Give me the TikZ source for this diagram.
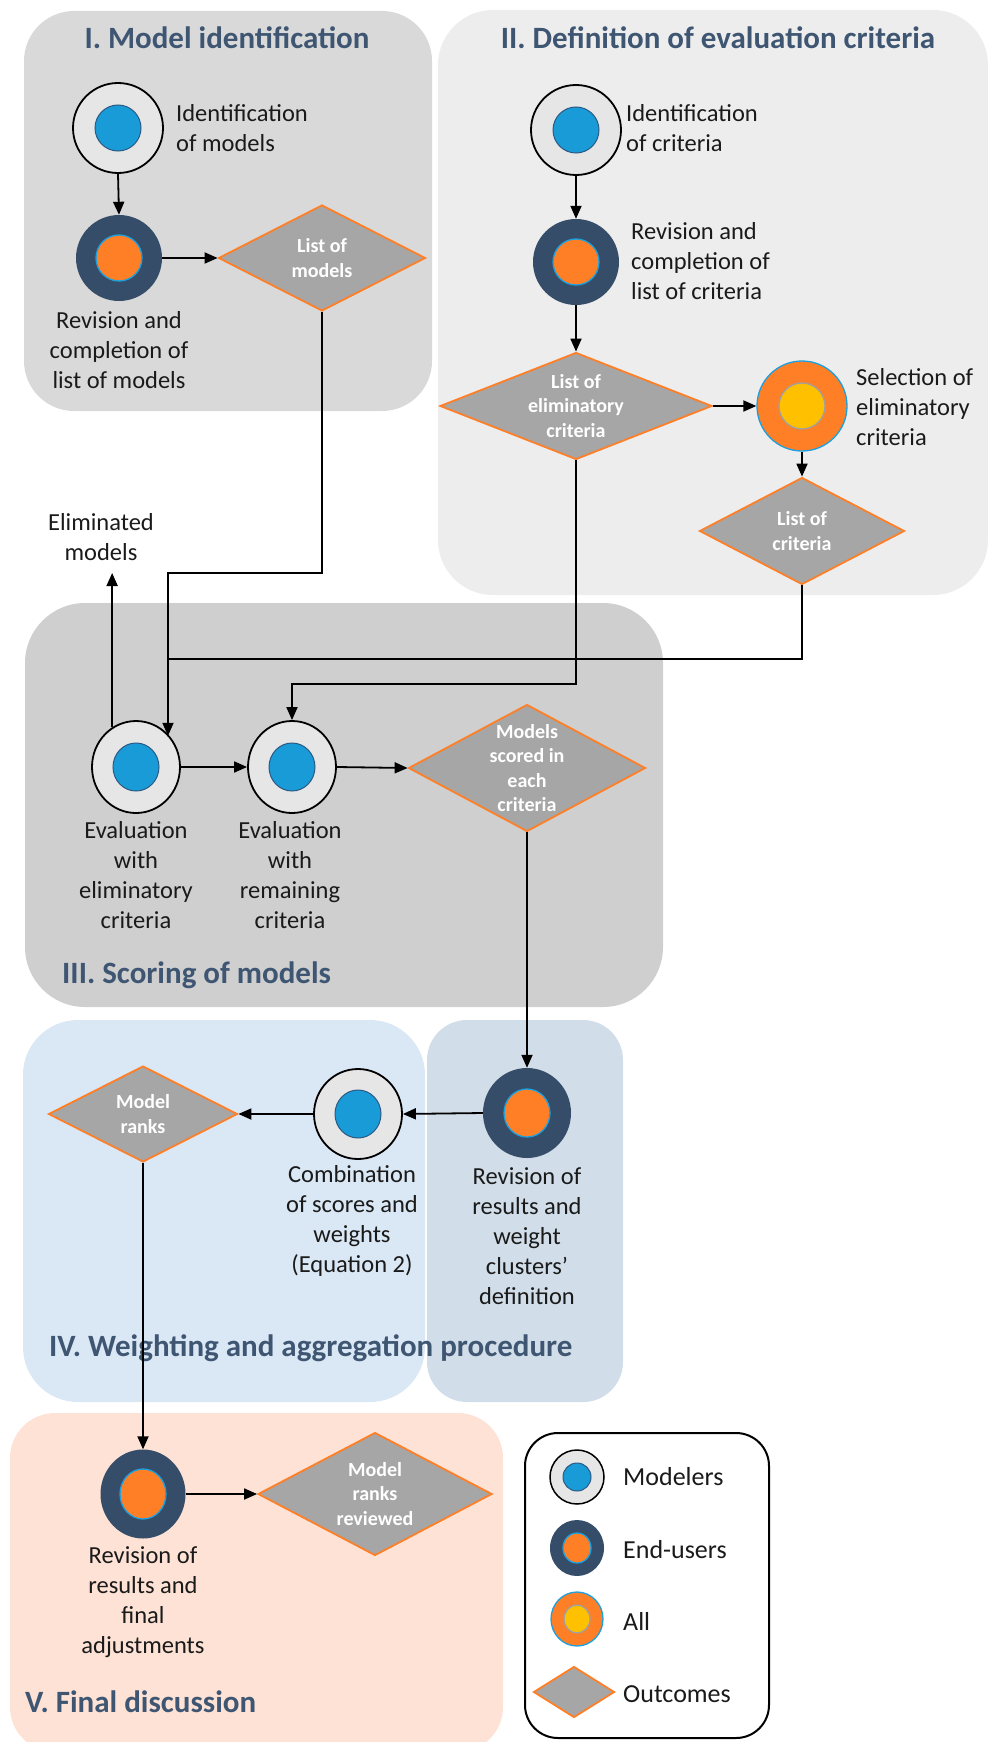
\documentclass[tikz,border=0pt]{standalone}
\usepackage{fontspec}
\setmainfont{Carlito}
\usetikzlibrary{shapes.geometric,arrows.meta}
\definecolor{cboxA}{HTML}{D9D9D9}
\definecolor{cboxB}{HTML}{EDEDED}
\definecolor{cboxC}{HTML}{CFCFCF}
\definecolor{cboxD}{HTML}{DAE7F4}
\definecolor{cboxE}{HTML}{D1DEE9}
\definecolor{cboxF}{HTML}{FDE2D5}
\definecolor{ctitle}{HTML}{3F5673}
\definecolor{cmodbg}{HTML}{E6E6E6}
\definecolor{cblue}{HTML}{189BD7}
\definecolor{cbluedk}{HTML}{2C5A85}
\definecolor{cbluelt}{HTML}{1BA0E0}
\definecolor{cnavy}{HTML}{354D69}
\definecolor{corange}{HTML}{FF7F27}
\definecolor{cyellow}{HTML}{FFC000}
\definecolor{cring}{HTML}{A0A0A0}
\definecolor{cdiag}{HTML}{A6A6A6}
\definecolor{ctext}{HTML}{1A1A1A}
\begin{document}
\begin{tikzpicture}[x=1pt,y=-1pt,
  arr/.style={line width=1.8pt,-{Triangle[length=13pt,width=11pt]}},
  ln/.style={line width=1.8pt},
  modeler/.style n args={4}{ellipse, draw=black, line width=1.8pt, fill=cmodbg,
    minimum width=#1, minimum height=#2, inner sep=0pt,
    path picture={\filldraw[fill=cblue, draw=cbluedk, line width=1pt]
      (path picture bounding box.center) ellipse [x radius=#3, y radius=#4];}},
  enduser/.style n args={4}{ellipse, fill=cnavy, draw=none,
    minimum width=#1, minimum height=#2, inner sep=0pt,
    path picture={\filldraw[fill=corange, draw=cbluelt, line width=1.3pt]
      (path picture bounding box.center) ellipse [x radius=#3, y radius=#4];}},
  allst/.style n args={4}{ellipse, fill=corange, draw=cbluelt, line width=1.3pt,
    minimum width=#1, minimum height=#2, inner sep=0pt,
    path picture={\filldraw[fill=cyellow, draw=cring, line width=1.3pt]
      (path picture bounding box.center) ellipse [x radius=#3, y radius=#4];}},
  outcome/.style n args={2}{diamond, fill=cdiag, draw=corange, line width=1.8pt,
    inner sep=0pt, minimum width=#1, minimum height=#2},
  dtext/.style={text=white, font=\fontsize{20}{24.5}\selectfont\bfseries, align=center, inner sep=0pt},
  btext/.style={text=ctext, font=\fontsize{24.5}{30}\selectfont, align=center, inner sep=0pt},
  ttl/.style={text=ctitle, font=\fontsize{31}{36}\selectfont\bfseries, inner sep=0pt},
  lgtext/.style={text=ctext, font=\fontsize{26}{30}\selectfont, inner sep=0pt, anchor=west}
]
\useasboundingbox (0,0) rectangle (990,1742);
% backgrounds
\fill[cboxA, rounded corners=50pt] (24,11) rectangle (432,411);
\fill[cboxB, rounded corners=55pt] (438,10) rectangle (988,595);
\fill[cboxC, rounded corners=60pt] (25,603) rectangle (663,1007);
\fill[cboxD, rounded corners=55pt] (23,1020) rectangle (425,1402);
\fill[cboxE, rounded corners=40pt] (427,1020) rectangle (623,1402);
\fill[cboxF, rounded corners=45pt] (10,1413) rectangle (503,1752);
\draw[line width=2pt, fill=white, rounded corners=33pt] (525,1433) rectangle (769,1738);

% titles
\node[ttl] (T1) at (227,38) {I. Model identification};
\node[ttl] (T2) at (718,38) {II. Definition of evaluation criteria};
\node[ttl, anchor=west] (T3) at (62,975) {III. Scoring of models};
\node[ttl, anchor=west] (T4) at (49,1348) {IV. Weighting and aggregation procedure};
\node[ttl, anchor=west] (T5) at (25,1702) {V. Final discussion};

% box I
\node[modeler={90pt}{90pt}{23pt}{23pt}] (c1) at (118,128) {};
\node[btext, anchor=west, align=left] (c1t) at (176,128) {Identification\\of models};
\node[enduser={86pt}{86pt}{23pt}{23pt}] (c2) at (119,258) {};
\node[btext] (c2t) at (119,350) {Revision and\\completion of\\list of models};
\node[outcome={207pt}{106pt}] (d1) at (322,258) {};
\node[dtext] (d1t) at (d1) {List of\\models};

% box II
\node[modeler={90pt}{90pt}{23pt}{23pt}] (c3) at (576,130) {};
\node[btext, anchor=west, align=left] (c3t) at (626,128) {Identification\\of criteria};
\node[enduser={86pt}{86pt}{23pt}{23pt}] (c4) at (576,262) {};
\node[btext, anchor=west, align=left] (c4t) at (631,261) {Revision and\\completion of\\list of criteria};
\node[outcome={272pt}{107pt}] (d2) at (576,406) {};
\node[dtext] (d2t) at (d2) {List of\\eliminatory\\criteria};
\node[allst={90pt}{90pt}{23pt}{23pt}] (c5) at (802,406) {};
\node[btext, anchor=west, align=left] (c5t) at (856,407) {Selection of\\eliminatory\\criteria};
\node[outcome={205pt}{107pt}] (d3) at (802,531) {};
\node[dtext] (d3t) at (d3) {List of\\criteria};

% box III
\node[btext] (elimt) at (101,537) {Eliminated\\models};
\coordinate (elimpt) at (113,573);
\node[modeler={88pt}{92pt}{23pt}{24pt}] (e1) at (136,767) {};
\node[btext] (e1t) at (136,875) {Evaluation\\with\\eliminatory\\criteria};
\node[modeler={88pt}{92pt}{23pt}{24pt}] (e2) at (292,767) {};
\node[btext] (e2t) at (290,875) {Evaluation\\with\\remaining\\criteria};
\node[outcome={237pt}{127pt}] (s1) at (527,768) {};
\node[dtext] (s1t) at (s1) {Models\\scored in\\each\\criteria};

% box IV
\node[enduser={88pt}{90pt}{23pt}{24pt}] (r1) at (527,1113) {};
\node[btext] (r1t) at (527,1236) {Revision of\\results and\\weight\\clusters’\\definition};
\node[modeler={88pt}{90pt}{23pt}{24pt}] (cb) at (358,1114) {};
\node[btext] (cbt) at (352,1221) {Combination\\of scores and\\weights\\(Equation 2)};
\node[outcome={189pt}{96pt}] (rk) at (143,1114) {};
\node[dtext] (rkt) at (rk) {Model\\ranks};

% box V
\node[enduser={85pt}{89pt}{23pt}{25pt}] (v1) at (143,1494) {};
\node[btext] (v1t) at (143,1602) {Revision of\\results and\\final\\adjustments};
\node[outcome={234pt}{123pt}] (rv) at (375,1494) {};
\node[dtext] (rvt) at (rv) {Model\\ranks\\reviewed};

% legend
\node[modeler={54pt}{54pt}{14pt}{14pt}, line width=1.5pt] (lg1) at (577,1477) {};
\node[lgtext] (lg1t) at (623,1477) {Modelers};
\node[enduser={54pt}{56pt}{14pt}{15pt}] (lg2) at (577,1548) {};
\node[lgtext] (lg2t) at (623,1550) {End-users};
\node[allst={52pt}{54pt}{13pt}{14pt}] (lg3) at (577,1619) {};
\node[lgtext] (lg3t) at (623,1621) {All};
\node[outcome={81pt}{51pt}] (lg4) at (574,1692) {};
\node[lgtext] (lg4t) at (623,1694) {Outcomes};

% connectors
\coordinate (j1) at (168,573);
\coordinate (j2) at (168,659);
\coordinate (j3) at (292,684);
\draw[arr] (c1.south) -- (c2.north);
\draw[arr] (c2.east) -- (d1.west);
\draw[arr] (c3.south) -- (c4.north);
\draw[arr] (c4.south) -- (d2.north);
\draw[arr] (d2.east) -- (c5.west);
\draw[arr] (c5.south) -- (d3.north);
\draw[arr] (d1.south) |- (j1) -- (j1 |- e1.43);
\draw[ln] (d3.south) |- (j2);
\draw[arr] (d2.south) |- (j3) -- (e2.north);
\draw[arr] (e1.121) -- (e1.121 |- elimpt);
\draw[arr] (e1.east) -- (e2.west);
\draw[arr] (e2.east) -- (s1.west);
\draw[arr] (s1.south) -- (r1.north);
\draw[arr] (r1.west) -- (cb.east);
\draw[arr] (cb.west) -- (rk.east);
\draw[arr] (rk.south) -- (v1.north);
\draw[arr] (v1.east) -- (rv.west);
\end{tikzpicture}
\end{document}
